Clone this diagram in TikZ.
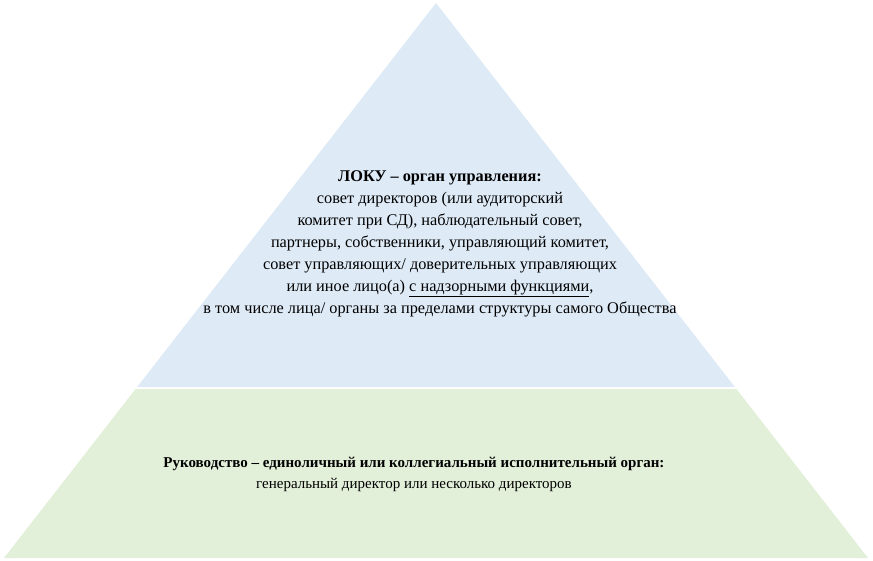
\documentclass[tikz,border=0pt]{standalone}
\usepackage{fontspec}
\setmainfont{Liberation Serif}
\usetikzlibrary{calc}
\definecolor{lokublue}{HTML}{DEEAF6}
\definecolor{rukgreen}{HTML}{E2EFD9}
\begin{document}
\begin{tikzpicture}[x=1pt,y=-1pt,
		layertext/.style={align=center,text=black,
		font=\fontsize{16.3}{22}\selectfont}
		]
		\useasboundingbox (0,0) rectangle (873,560);
		\coordinate (apex) at (436,3);
		\coordinate (baseL) at (4,558);
		\coordinate (baseR) at (868,558);
		% upper part
		\fill[lokublue] (apex) -- ($(apex)!0.6919!(baseL)$) -- ($(apex)!0.6919!(baseR)$) -- cycle;
		% lower part
		\fill[rukgreen] ($(apex)!0.6955!(baseL)$) -- (baseL) -- (baseR) -- ($(apex)!0.6955!(baseR)$) -- cycle;
		\node[layertext](loku) at (440,244){\textbf{ЛОКУ – орган управления:}\\
		совет директоров (или аудиторский\\
		комитет при СД), наблюдательный совет,\\
		партнеры, собственники, управляющий комитет,\\
		совет управляющих/ доверительных управляющих\\
		или иное лицо(а) \underline{с надзорными функциями},\\
		в том числе лица/ органы за пределами структуры самого Общества};
		\node[layertext, font=\fontsize{15}{21}\selectfont](ruk) at (414,474){\textbf{Руководство – единоличный или коллегиальный исполнительный орган:}\\
		генеральный директор или несколько директоров};
	\end{tikzpicture}
\end{document}
